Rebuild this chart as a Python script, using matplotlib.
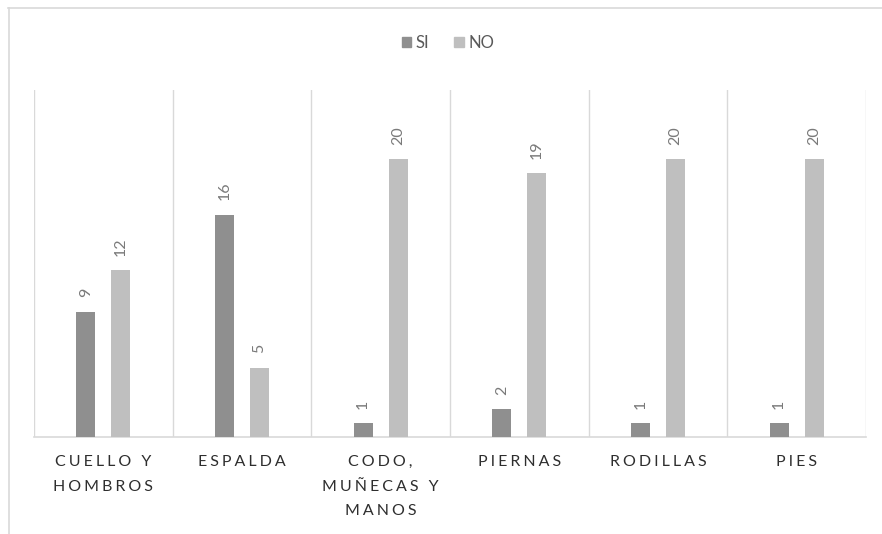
import matplotlib
matplotlib.use("Agg")
import matplotlib.pyplot as plt
from matplotlib.lines import Line2D
from matplotlib.patches import Patch
import numpy as np

categories = ["CUELLO Y\nHOMBROS", "ESPALDA", "CODO,\nMUÑECAS Y\nMANOS",
              "PIERNAS", "RODILLAS", "PIES"]
si_values = [9, 16, 1, 2, 1, 1]
no_values = [12, 5, 20, 19, 20, 20]
series_names = ["SI", "NO"]

SI_COLOR = "#8f8f8f"
NO_COLOR = "#bfbfbf"
GRID = "#d9d9d9"
VAL_COLOR = "#7a7a7a"
CAT_COLOR = "#2e2e2e"

plt.rcParams["font.family"] = ["Lato", "DejaVu Sans"]


def spaced(label, sep="\u2009\u200a"):
    return "\n".join(sep.join(line) for line in label.split("\n"))


fig = plt.figure(figsize=(8.82, 5.34), dpi=100)
ax = fig.add_axes([34 / 882, 1 - 437 / 534, (866 - 34) / 882, (437 - 90) / 534])

x = np.arange(len(categories))
w = 0.137
off = 0.127
b_si = ax.bar(x - off, si_values, w, color=SI_COLOR, zorder=3)
b_no = ax.bar(x + off, no_values, w, color=NO_COLOR, zorder=3)

for bars, vals in ((b_si, si_values), (b_no, no_values)):
    for rect, v in zip(bars, vals):
        ax.annotate(str(v), (rect.get_x() + rect.get_width() / 2, rect.get_height()),
                    xytext=(0, 10.5), textcoords="offset points", rotation=90,
                    ha="center", va="bottom", fontsize=11.5, color=VAL_COLOR)

ax.set_xlim(-0.5, len(categories) - 0.5)
ax.set_ylim(0, 25)
ax.set_yticks([])
ax.set_xticks(x)
ax.set_xticklabels([spaced(c) for c in categories], fontsize=11.5, color=CAT_COLOR,
                   linespacing=1.95, va="top")
ax.tick_params(axis="x", length=0, pad=13)
for b in np.arange(-0.5, len(categories), 1.0):
    ax.axvline(b, color=GRID, lw=1, zorder=1)
for s in ("top", "right", "left"):
    ax.spines[s].set_visible(False)
ax.spines["bottom"].set_color(GRID)
ax.spines["bottom"].set_linewidth(1.2)

handles = [Patch(color=SI_COLOR), Patch(color=NO_COLOR)]
fig.legend(handles, series_names, loc="center", bbox_to_anchor=(448 / 882, 1 - 43 / 534),
           ncol=2, frameon=False, fontsize=12, handlelength=0.55, handleheight=0.55,
           handletextpad=0.3, columnspacing=1.5, labelcolor="#595959")

# chart frame
fig.add_artist(Line2D([8 / 882, 1], [1 - 7.5 / 534, 1 - 7.5 / 534], color=GRID, lw=1.2))
fig.add_artist(Line2D([8.5 / 882, 8.5 / 882], [0, 1 - 7.5 / 534], color=GRID, lw=1.2))

fig.savefig("out.png", dpi=100)
